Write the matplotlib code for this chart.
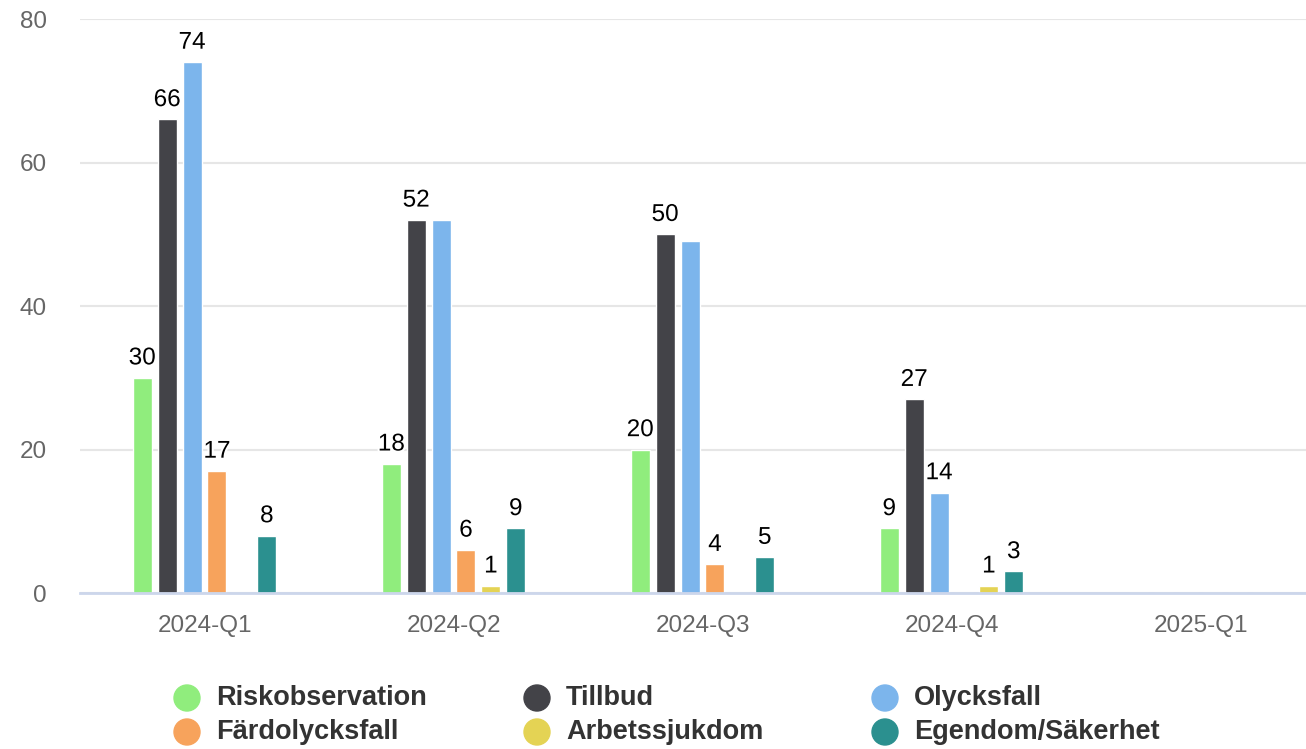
import matplotlib.pyplot as plt
import matplotlib.patheffects as pe
from matplotlib.patches import Ellipse
import numpy as np

plt.rcParams['font.family'] = ['Liberation Sans', 'DejaVu Sans']

# ---- data ----
quarters = ['2024-Q1', '2024-Q2', '2024-Q3', '2024-Q4', '2025-Q1']
series_names = ['Riskobservation', 'Tillbud', 'Olycksfall',
                'Färdolycksfall', 'Arbetssjukdom', 'Egendom/Säkerhet']
riskobservation = [30, 18, 20, 9, 0]
tillbud = [66, 52, 50, 27, 0]
olycksfall = [74, 52, 49, 14, 0]
fardolycksfall = [17, 6, 4, 0, 0]
arbetssjukdom = [0, 1, 0, 1, 0]
egendom = [8, 9, 5, 3, 0]
series_values = [riskobservation, tillbud, olycksfall,
                 fardolycksfall, arbetssjukdom, egendom]
# labels Highcharts hid because of overlap (series index, quarter index)
hidden_labels = [(2, 1), (2, 2)]

colors = ['#90ed7d', '#434348', '#7cb5ec', '#f7a35c', '#e4d354', '#2b908f']

W, H = 1306, 749
fig = plt.figure(figsize=(W / 100, H / 100), dpi=100)
# plot area runs past the right edge (chart is cropped in the reference)
left, right, bottom, top = 80, 1325, 593, 19
ax = fig.add_axes([left / W, (H - bottom) / H, (right - left) / W, (bottom - top) / H])

x = np.arange(len(quarters))
step = 0.1
bar_w = 0.076
n = len(series_values)
for i, vals in enumerate(series_values):
    off = (i - (n - 1) / 2) * step
    bars = ax.bar(x + off, vals, width=bar_w, color=colors[i],
                  edgecolor='white', linewidth=1, zorder=3)
    for j, (b, v) in enumerate(zip(bars, vals)):
        if v == 0 or (i, j) in hidden_labels:
            continue
        t = ax.annotate(str(v), (b.get_x() + b.get_width() / 2, v),
                        xytext=(0, 6), textcoords='offset points',
                        ha='center', va='bottom', fontsize=17.5,
                        color='black', zorder=5)
        t.set_path_effects([pe.withStroke(linewidth=3, foreground='white')])

ax.set_xlim(-0.5, len(quarters) - 0.5)
ax.set_ylim(0, 80)
ax.set_yticks([0, 20, 40, 60, 80])
ax.set_xticks(x)
ax.set_xticklabels(quarters)
ax.yaxis.grid(True, color='#e6e6e6', linewidth=1.5, zorder=0)
ax.set_axisbelow(True)
for s in ['top', 'right', 'left']:
    ax.spines[s].set_visible(False)
ax.spines['bottom'].set_color('#ccd6eb')
ax.spines['bottom'].set_linewidth(2)
ax.spines['bottom'].set_zorder(4)
ax.tick_params(axis='y', length=0, pad=24, labelsize=17.5, labelcolor='#666666')
ax.tick_params(axis='x', length=0, pad=16, labelsize=17.5, labelcolor='#666666')

# ---- legend, 3 columns, filled row by row ----
col_x = [187, 537, 885]
row_y = [698, 732]
for k, name in enumerate(series_names):
    cx = col_x[k % 3]
    cy = row_y[k // 3]
    fig.patches.append(Ellipse((cx / W, (H - cy) / H), 26 / W, 26 / H,
                               transform=fig.transFigure, color=colors[k]))
    fig.text((cx + 29) / W, (H - cy) / H, name, ha='left', va='center',
             fontsize=19.5, fontweight='bold', color='#333333')

fig.savefig('out.png', dpi=100)
